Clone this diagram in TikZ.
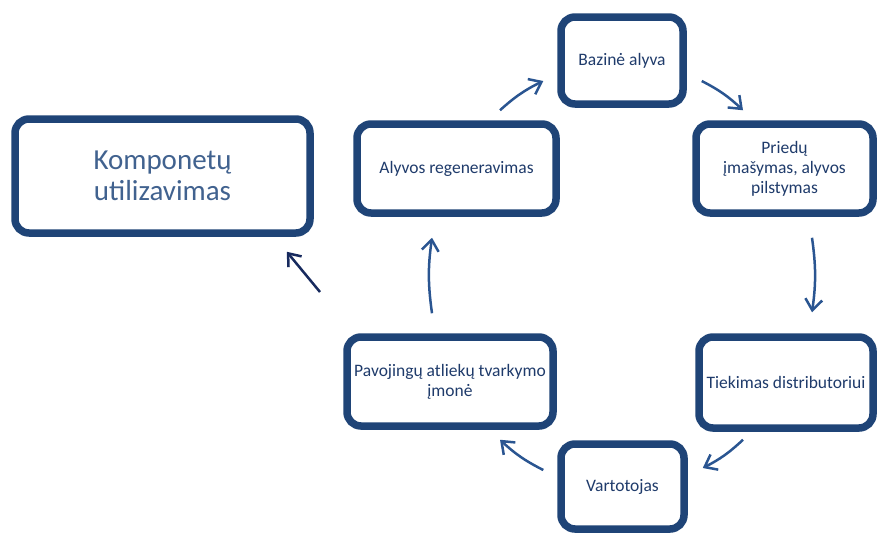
\documentclass[tikz,border=0pt]{standalone}
\usepackage{fontspec}
\setmainfont{Carlito}
\usetikzlibrary{arrows.meta}
\usetikzlibrary{shadows}
\usepackage{xcolor}
\definecolor{boxblue}{HTML}{1F4477}
\definecolor{txtblue}{HTML}{1F3B6B}
\definecolor{bigtxt}{HTML}{41628F}
\definecolor{arrblue}{HTML}{2A5591}
\definecolor{arrdark}{HTML}{172A5E}

\begin{document}
\begin{tikzpicture}[x=1pt,y=-1pt,
    stage/.style={draw=boxblue,line width=7.5pt,rounded corners=14pt,fill=white,
      inner sep=0pt,align=center,text=txtblue,font=\fontsize{17.5}{20}\selectfont,
      drop shadow={opacity=0.18,shadow xshift=0pt,shadow yshift=-3pt}},
    flow/.style={arrblue,line width=2.5pt,-{Straight Barb[length=11pt,width=17pt]}}]
        \useasboundingbox (0,0) rectangle (877,533);

        % boxes
        \node[stage,minimum width=295,minimum height=114,text=bigtxt,
              font=\fontsize{29}{31}\selectfont] (komp) at (162.5,176) {Komponetų\\utilizavimas};
        \node[stage,minimum width=122,minimum height=87] (base) at (622,60.5) {Bazinė alyva};
        \node[stage,minimum width=177,minimum height=89] (pried) at (784.5,168.5) {Priedų\\įmašymas, alyvos\\pilstymas};
        \node[stage,minimum width=174,minimum height=91] (tiek) at (786,382.5) {Tiekimas distributoriui};
        \node[stage,minimum width=123,minimum height=85] (vart) at (622.5,486.5) {Vartotojas};
        \node[stage,minimum width=206,minimum height=89] (pav) at (450,381.5) {Pavojingų atliekų tvarkymo\\įmonė};
        \node[stage,minimum width=199,minimum height=89] (regen) at (456.5,168.5) {Alyvos regeneravimas};

        % cycle
        \draw[flow] ([xshift=43.5pt,yshift=10pt]regen.north) to[bend left=8] ([xshift=-14pt,yshift=-20.5pt]base.west);
        \draw[flow] ([xshift=15pt,yshift=-20.5pt]base.east) to[bend left=8] ([xshift=-41.5pt,yshift=10pt]pried.north);
        \draw[flow] ([xshift=27.5pt,yshift=-21pt]pried.south) to[bend left=8] ([xshift=26pt,yshift=21pt]tiek.north);
        \draw[flow] ([xshift=-43pt,yshift=-8pt]tiek.south) to[bend left=8] ([xshift=15pt,yshift=18.5pt]vart.east);
        \draw[flow] ([xshift=-14pt,yshift=16.5pt]vart.west) to[bend left=8] ([xshift=50pt,yshift=-10pt]pav.south);
        \draw[flow] ([xshift=-18pt,yshift=20pt]pav.north) to[bend left=8] ([xshift=-24.5pt,yshift=-21pt]regen.south);

        \coordinate (tail) at (320,292);
        \draw[flow,arrdark] (tail) -- ([xshift=-27pt,yshift=-15pt]komp.south east);

    \end{tikzpicture}
\end{document}
